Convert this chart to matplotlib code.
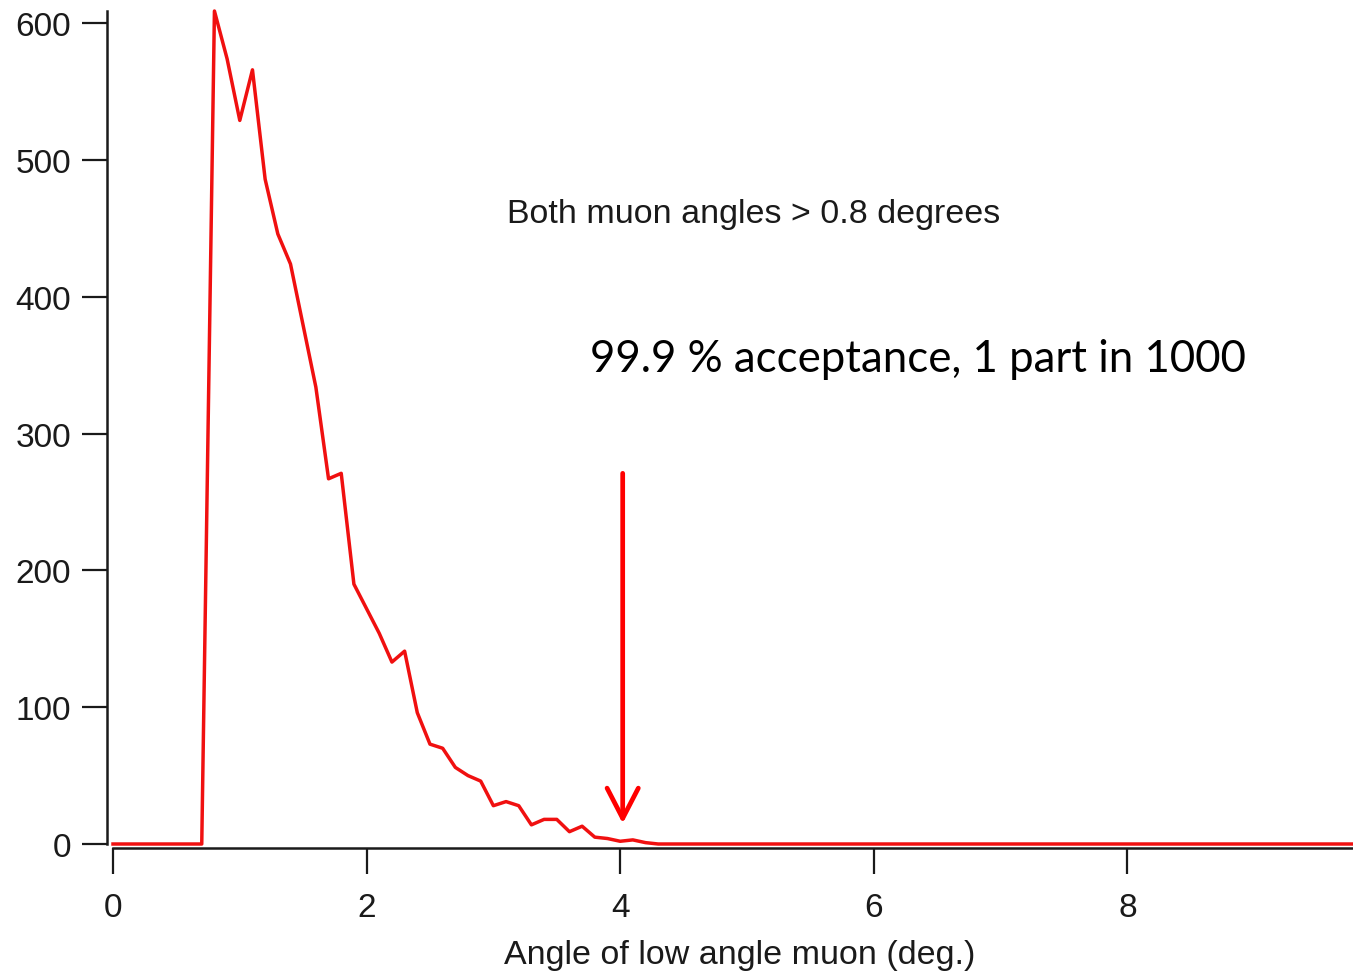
import numpy as np
import matplotlib
matplotlib.use('Agg')
from matplotlib import pyplot as plt

# Bins of the angle histogram (deg.), 0.1 deg wide.
angles = np.round(np.arange(0, 101) * 0.1, 1)

# Counts, bin by bin.
counts = [
    0, 0, 0, 0, 0, 0, 0, 0, 609, 574,          # 0.0 - 0.9
    529, 566, 486, 446, 424, 379, 334, 267, 271, 190,  # 1.0 - 1.9
    172, 154, 133, 141, 96, 73, 70, 56, 50, 46,  # 2.0 - 2.9
    28, 31, 28, 14, 18, 18, 9, 13, 5, 4,        # 3.0 - 3.9
    2, 3, 1, 0, 0, 0, 0, 0, 0, 0,               # 4.0 - 4.9
    0, 0, 0, 0, 0, 0, 0, 0, 0, 0,               # 5.0 - 5.9
    0, 0, 0, 0, 0, 0, 0, 0, 0, 0,               # 6.0 - 6.9
    0, 0, 0, 0, 0, 0, 0, 0, 0, 0,               # 7.0 - 7.9
    0, 0, 0, 0, 0, 0, 0, 0, 0, 0,               # 8.0 - 8.9
    0, 0, 0, 0, 0, 0, 0, 0, 0, 0,               # 9.0 - 9.9
    0,                                          # 10.0
]

xticks = [0, 2, 4, 6, 8]
yticks = [0, 100, 200, 300, 400, 500, 600]

# Cut marked by the arrow.
cut_angle = 4.02
arrow_top = 271
arrow_tip = 15

plt.rcParams['font.family'] = ['Liberation Sans', 'DejaVu Sans']

fig = plt.figure(figsize=(13.53, 9.79), dpi=100)
ax = fig.add_axes([113 / 1353, 134 / 979, 1240 / 1353, 833 / 979])

ax.plot(angles, counts, color='#f01010', linewidth=2.5, clip_on=False, zorder=3)

ax.set_xlim(0, 9.78)
ax.set_ylim(0, 609)

# Axes like the original: only left and bottom, slightly detached.
for side in ['top', 'right']:
    ax.spines[side].set_visible(False)
ax.spines['left'].set_position(('outward', 4.3))
ax.spines['bottom'].set_position(('outward', 2.9))
for side in ['left', 'bottom']:
    ax.spines[side].set_linewidth(1.8)
    ax.spines[side].set_color('#1a1a1a')

ax.set_xticks(xticks)
ax.set_yticks(yticks)
ax.tick_params(axis='y', direction='out', length=18, width=1.6, pad=8,
               labelsize=24, colors='#1a1a1a')
ax.tick_params(axis='x', direction='out', length=18.5, width=1.6, pad=13,
               labelsize=24, colors='#1a1a1a')

ax.set_xlabel('Angle of low angle muon (deg.)', fontsize=24.5, color='#1a1a1a')
ax.xaxis.set_label_coords((740 - 113) / 1240, (845 - 956) / 833)
ax.xaxis.label.set_va('center')

ax.text(3.11, 461, 'Both muon angles > 0.8 degrees', fontsize=24.5,
        color='#1a1a1a', ha='left', va='center')
ax.text(3.76, 355, '99.9 % acceptance, 1 part in 1000', fontsize=31.5,
        family=['Lato', 'DejaVu Sans'], color='black', ha='left', va='center')

ax.annotate('', xy=(cut_angle, arrow_tip), xytext=(cut_angle, arrow_top),
            arrowprops=dict(arrowstyle='->,head_length=1.45,head_width=0.75',
                            mutation_scale=15, color='red', lw=3.4,
                            shrinkA=0, shrinkB=0))

fig.savefig('out.png', dpi=100)
